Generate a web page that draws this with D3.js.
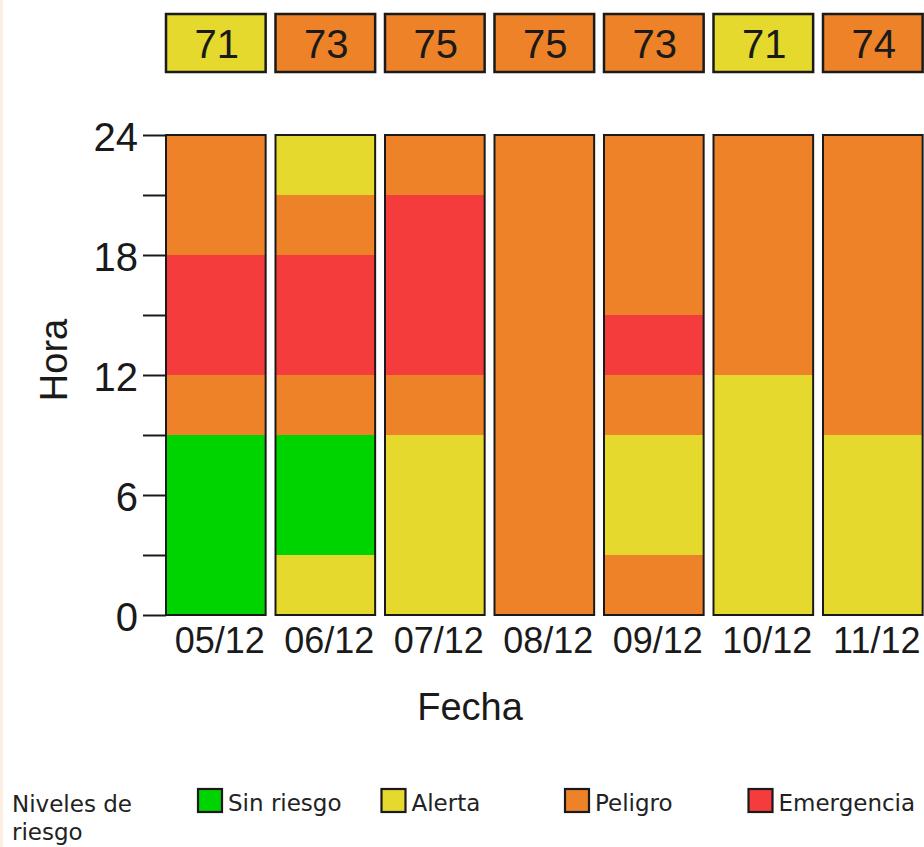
<!DOCTYPE html>
<html>
<head>
<meta charset="utf-8">
<script src="https://cdn.jsdelivr.net/npm/d3@7"></script>
<style>
  html, body { margin: 0; padding: 0; background: #fff; }
  svg { display: block; }
</style>
</head>
<body>
<svg id="container" width="924" height="847"></svg>
<script>
// fechas (eje x)
const fechas = ['05/12', '06/12', '07/12', '08/12', '09/12', '10/12', '11/12'];
// indice diario (cajas de arriba) y su nivel
const indices = [71, 73, 75, 75, 73, 71, 74];
const nivelIndice = [1, 2, 2, 2, 2, 1, 2];
// niveles por bloque de 3 horas, de 0h a 24h
const horasBloque = [0, 3, 6, 9, 12, 15, 18, 21];
const nivelesPorFecha = [
  [0, 0, 0, 2, 3, 3, 2, 2],
  [1, 0, 0, 2, 3, 3, 2, 1],
  [1, 1, 1, 2, 3, 3, 3, 2],
  [2, 2, 2, 2, 2, 2, 2, 2],
  [2, 1, 1, 2, 3, 2, 2, 2],
  [1, 1, 1, 1, 2, 2, 2, 2],
  [1, 1, 1, 2, 2, 2, 2, 2]
];
const nombresNiveles = ['Sin riesgo', 'Alerta', 'Peligro', 'Emergencia'];
const coloresNiveles = ['#00d400', '#e5d92e', '#ee8228', '#f53c3c'];
const ticksHora = [0, 3, 6, 9, 12, 15, 18, 21, 24];

const svg = d3.select('#container');
const FONT = '"Liberation Sans", Arial, sans-serif';

// borde suave a la izquierda
svg.append('rect')
  .attr('x', 0).attr('y', 0)
  .attr('width', 3).attr('height', 847)
  .attr('fill', '#fcefe2');

const step = 109.5;
const x = d3.scaleBand()
  .domain(fechas)
  .range([166 - 0.045 * step, 166 - 0.045 * step + fechas.length * step])
  .paddingInner(0.09)
  .paddingOuter(0.045);

const y = d3.scaleLinear().domain([0, 24]).range([615, 135]);
const color = i => coloresNiveles[i];

// cajas con el indice
const cajas = svg.append('g').attr('class', 'cajas')
  .selectAll('g')
  .data(fechas)
  .enter()
  .append('g');

cajas.append('rect')
  .attr('x', d => x(d))
  .attr('y', 14)
  .attr('width', x.bandwidth())
  .attr('height', 58)
  .attr('fill', (d, i) => color(nivelIndice[i]))
  .attr('stroke', '#1a1a1a')
  .attr('stroke-width', 2.5);

cajas.append('text')
  .attr('x', d => x(d) + x.bandwidth() / 2 + 1)
  .attr('y', 44)
  .attr('dy', '0.36em')
  .attr('text-anchor', 'middle')
  .attr('font-family', FONT)
  .attr('font-size', 40)
  .attr('fill', '#1a1a1a')
  .text((d, i) => indices[i]);

// barras por fecha
const barras = svg.append('g').attr('class', 'barras')
  .selectAll('g')
  .data(fechas)
  .enter()
  .append('g');

barras.selectAll('rect.bloque')
  .data((d, i) => nivelesPorFecha[i].map((n, j) => ({ fecha: d, hora: horasBloque[j], nivel: n })))
  .enter()
  .append('rect')
  .attr('class', 'bloque')
  .attr('x', d => x(d.fecha))
  .attr('y', d => y(d.hora + 3))
  .attr('width', x.bandwidth())
  .attr('height', d => y(d.hora) - y(d.hora + 3))
  .attr('fill', d => color(d.nivel))
  .attr('shape-rendering', 'crispEdges');

barras.append('rect')
  .attr('x', d => x(d))
  .attr('y', y(24))
  .attr('width', x.bandwidth())
  .attr('height', y(0) - y(24))
  .attr('fill', 'none')
  .attr('stroke', '#1a1a1a')
  .attr('stroke-width', 2);

// eje y
const yAxis = svg.append('g')
  .attr('transform', 'translate(166,0)')
  .call(d3.axisLeft(y)
    .tickValues(ticksHora)
    .tickSize(23)
    .tickPadding(5)
    .tickFormat(d => d % 6 === 0 ? d : ''));
yAxis.select('.domain').remove();
yAxis.selectAll('.tick line').attr('stroke', '#1a1a1a').attr('stroke-width', 2);
yAxis.selectAll('.tick text')
  .attr('font-family', FONT)
  .attr('font-size', 40)
  .attr('fill', '#1a1a1a')
  .attr('dy', '0.38em');

// etiquetas del eje x
svg.append('g').attr('class', 'etiquetas')
  .selectAll('text')
  .data(fechas)
  .enter()
  .append('text')
  .attr('x', d => x(d) + x.bandwidth() / 2 + 4)
  .attr('y', 653)
  .attr('text-anchor', 'middle')
  .attr('font-family', FONT)
  .attr('font-size', 36)
  .attr('fill', '#1a1a1a')
  .text(d => d);

// titulos de los ejes
svg.append('text')
  .attr('x', 470)
  .attr('y', 720)
  .attr('text-anchor', 'middle')
  .attr('font-family', FONT)
  .attr('font-size', 38)
  .attr('fill', '#1a1a1a')
  .text('Fecha');

svg.append('text')
  .attr('transform', 'translate(67,360) rotate(-90)')
  .attr('text-anchor', 'middle')
  .attr('font-family', FONT)
  .attr('font-size', 38)
  .attr('fill', '#1a1a1a')
  .text('Hora');

// leyenda
const LEG_FONT = '"DejaVu Sans", sans-serif';
const leyenda = svg.append('g').attr('class', 'leyenda');

leyenda.append('text')
  .attr('x', 12)
  .attr('font-family', LEG_FONT)
  .attr('font-size', 23)
  .attr('fill', '#222')
  .selectAll('tspan')
  .data(['Niveles de', 'riesgo'])
  .enter()
  .append('tspan')
  .attr('x', 12)
  .attr('y', (d, i) => 812 + i * 28)
  .text(d => d);

const items = leyenda.selectAll('g.item')
  .data(nombresNiveles)
  .enter()
  .append('g')
  .attr('class', 'item')
  .attr('transform', (d, i) => `translate(${198 + i * 183.5},789)`);

items.append('rect')
  .attr('width', 24)
  .attr('height', 23)
  .attr('fill', (d, i) => coloresNiveles[i])
  .attr('stroke', '#1a1a1a')
  .attr('stroke-width', 2.2);

items.append('text')
  .attr('x', 30)
  .attr('y', 22)
  .attr('font-family', LEG_FONT)
  .attr('font-size', 23)
  .attr('fill', '#222')
  .text(d => d);
</script>
</body>
</html>
